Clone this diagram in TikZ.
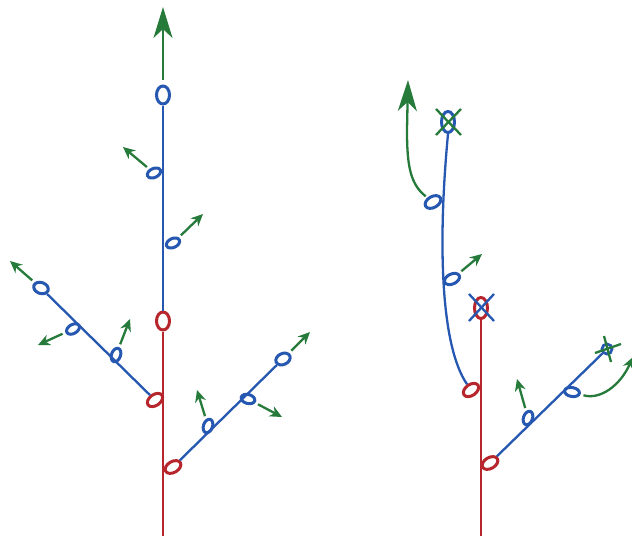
\documentclass[tikz,border=0pt]{standalone}
\usetikzlibrary{arrows.meta,shapes.geometric}
\definecolor{stemblue}{RGB}{38,88,178}
\definecolor{stemred}{RGB}{182,38,44}
\definecolor{leafgreen}{RGB}{38,122,58}
\begin{document}
\begin{tikzpicture}[x=1pt,y=-1pt,
  stem/.style={line width=2.3pt},
  bud/.style={ellipse, draw, line width=3pt, inner sep=0pt, minimum width=14pt, minimum height=9pt},
  bigbud/.style={bud, minimum width=17pt, minimum height=11pt},
  apex/.style={ellipse, draw, line width=3pt, inner sep=0pt, minimum width=13pt, minimum height=18pt},
  shoot/.style={leafgreen, line width=2.3pt, -{Stealth[length=12pt,width=11pt]}, shorten <=3pt},
  bigshoot/.style={leafgreen, line width=2.3pt, -{Stealth[length=31pt,width=19pt,inset=9pt]}},
  cross/.style={line width=2.3pt}]
  \useasboundingbox (0,0) rectangle (632,536);

  % 左の木
  \coordinate (Lbase) at (163,536);
  \coordinate (Ltip) at (163,7);
  \node[apex, stemred] (Lr) at (163,321) {};
  \node[apex, stemblue] (Lb) at (163,95) {};
  \draw[stem, stemred] (Lbase) -- (Lr.south);
  \draw[stem, stemblue] (Lr.north) -- (Lb.south);
  \draw[bigshoot] ([yshift=5pt]Lb.north) -- (Ltip);

  % 側芽
  \node[bud, stemblue, rotate=25] (b1) at (154,173) {};
  \node[bud, stemblue, rotate=25] (b2) at (173,243) {};
  \coordinate (t1) at (123,147);
  \coordinate (t2) at (203,214);
  \draw[shoot] (b1) -- (t1);
  \draw[shoot] (b2) -- (t2);

  % 左の枝
  \node[bigbud, stemred, rotate=35] (r1) at (155,400) {};
  \node[bud, stemblue, rotate=-20, minimum width=15pt, minimum height=11pt] (a1) at (41,288) {};
  \draw[stem, stemblue] (r1) -- (a1);
  \node[bud, stemblue, rotate=30] (l1) at (73,329) {};
  \node[bud, stemblue, rotate=70] (l2) at (116,355) {};
  \coordinate (t3) at (10,261);
  \coordinate (t4) at (38,345);
  \coordinate (t5) at (130,319);
  \draw[shoot] (a1) -- (t3);
  \draw[shoot] (l1) -- (t4);
  \draw[shoot] (l2) -- (t5);

  % 右の枝
  \node[bigbud, stemred, rotate=30] (r2) at (173,467) {};
  \node[bud, stemblue, rotate=25, minimum width=15pt, minimum height=11pt] (a2) at (283,359) {};
  \draw[stem, stemblue] (r2) -- (a2);
  \node[bud, stemblue, rotate=70] (m1) at (208,426) {};
  \node[bud, stemblue, rotate=-15] (m2) at (248,399) {};
  \coordinate (t6) at (310,332);
  \coordinate (t7) at (197,390);
  \coordinate (t8) at (282,417);
  \draw[shoot] (a2) -- (t6);
  \draw[shoot] (m1) -- (t7);
  \draw[shoot] (m2) -- (t8);

  % 右の木
  \coordinate (Rbase) at (481,536);
  \node[apex, stemred, minimum height=21pt] (R) at (481,308) {};
  \node[apex, stemblue, minimum height=21pt] (T) at (448,122) {};
  \draw[stem, stemred] (Rbase) -- (R.south);
  \draw[cross, stemblue] ([shift={(-12,-14)}]R.center) -- ([shift={(13,13)}]R.center);
  \draw[cross, stemblue] ([shift={(13,-14)}]R.center) -- ([shift={(-12,13)}]R.center);

  % 曲がった茎
  \node[bigbud, stemred, rotate=35] (q1) at (471,390) {};
  \draw[stem, stemblue] (q1) .. controls (440,345) and (438,240) .. (T.south);
  \draw[cross, leafgreen] ([shift={(-12,-13)}]T.center) -- ([shift={(13,13)}]T.center);
  \draw[cross, leafgreen] ([shift={(13,-13)}]T.center) -- ([shift={(-12,13)}]T.center);
  \node[bigbud, stemblue, rotate=30] (n1) at (433,202) {};
  \node[bud, stemblue, rotate=25, minimum width=16pt, minimum height=10pt] (n2) at (452,279) {};
  \coordinate (t9) at (408,80);
  \coordinate (t10) at (482,254);
  \draw[bigshoot, shorten <=2pt] (n1) .. controls (410,184) and (407,165) .. (407,130) -- (t9);
  \draw[shoot] (n2) -- (t10);

  % 右下の枝
  \node[bigbud, stemred, rotate=30] (q2) at (490,463) {};
  \node[circle, draw, stemblue, line width=2.8pt, inner sep=0pt, minimum size=10pt] (S) at (607,349) {};
  \draw[stem, stemblue] (q2) -- (S);
  \draw[cross, leafgreen] ([shift={(-3,-13)}]S.center) -- ([shift={(4,13)}]S.center);
  \draw[cross, leafgreen] ([shift={(-12,4)}]S.center) -- ([shift={(14,-5)}]S.center);
  \node[bud, stemblue, rotate=70] (p1) at (528,418) {};
  \node[bud, stemblue, rotate=-10, minimum width=15pt] (p2) at (572,392) {};
  \coordinate (t11) at (517,379);
  \coordinate (t12) at (633,357);
  \draw[shoot] (p1) -- (t11);
  \draw[shoot] (p2) .. controls (600,400) and (620,386) .. (t12);
\end{tikzpicture}
\end{document}
